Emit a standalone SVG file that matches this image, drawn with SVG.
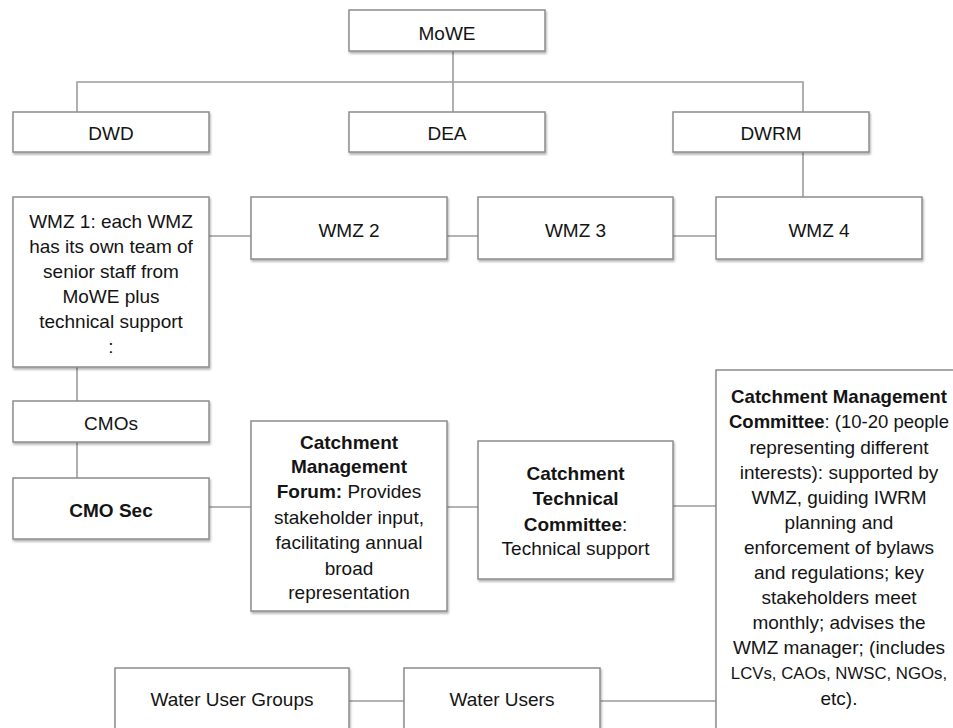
<svg xmlns="http://www.w3.org/2000/svg" width="953" height="728" viewBox="0 0 953 728">
<defs>
<style>
.b{fill:#fff;stroke:#8c8c8c;stroke-width:1.5;filter:url(#sh)}
.t{font-family:"Liberation Sans",Arial,sans-serif;font-size:19px;fill:#141414;text-anchor:middle}
.bd{font-weight:bold}
.c{stroke:#9c9c9c;stroke-width:1.6;fill:none}
</style>
<filter id="sh" x="-5%" y="-5%" width="110%" height="115%">
<feDropShadow dx="1" dy="2" stdDeviation="1" flood-color="#000" flood-opacity="0.3"/>
</filter>
</defs>
<rect width="953" height="728" fill="#fff"/>
<g id="connectors">
<path class="c" d="M453,51 V112"/>
<path class="c" d="M77,112 V82 H803 V112"/>
<path class="c" d="M803,152 V197"/>
<path class="c" d="M209,236 H251 M447,236 H478 M673,236 H716"/>
<path class="c" d="M77,367 V401 M77,442 V478"/>
<path class="c" d="M209,507 H251 M447,507 H478 M673,506 H716"/>
<path class="c" d="M349,701 H404 M600,701 H716"/>
</g>
<g id="mowe"><rect class="b" x="349" y="10" width="196" height="41"/><text class="t" x="447" y="40">MoWE</text></g>
<g id="dwd"><rect class="b" x="13" y="112" width="196" height="40"/><text class="t" x="111" y="140">DWD</text></g>
<g id="dea"><rect class="b" x="349" y="112" width="196" height="40"/><text class="t" x="447" y="140">DEA</text></g>
<g id="dwrm"><rect class="b" x="673" y="112" width="196" height="40"/><text class="t" x="771" y="140">DWRM</text></g>
<g id="wmz1"><rect class="b" x="13" y="197" width="196" height="170"/>
<text class="t" x="111" y="228">WMZ 1: each WMZ</text>
<text class="t" x="111" y="253">has its own team of</text>
<text class="t" x="111" y="278">senior staff from</text>
<text class="t" x="111" y="303">MoWE plus</text>
<text class="t" x="111" y="328">technical support</text>
<text class="t" x="111" y="353">:</text></g>
<g id="wmz2"><rect class="b" x="251" y="197" width="196" height="62"/><text class="t" x="349" y="237">WMZ 2</text></g>
<g id="wmz3"><rect class="b" x="478" y="197" width="195" height="62"/><text class="t" x="575.5" y="237">WMZ 3</text></g>
<g id="wmz4"><rect class="b" x="716" y="197" width="206" height="62"/><text class="t" x="819" y="237">WMZ 4</text></g>
<g id="cmos"><rect class="b" x="13" y="401" width="196" height="41"/><text class="t" x="111" y="430">CMOs</text></g>
<g id="cmosec"><rect class="b" x="13" y="478" width="196" height="61"/><text class="t bd" x="111" y="517">CMO Sec</text></g>
<g id="cmf"><rect class="b" x="251" y="421" width="196" height="190"/>
<text class="t bd" x="349" y="449">Catchment</text>
<text class="t bd" x="349" y="473">Management</text>
<text class="t" x="349" y="498"><tspan class="bd">Forum:</tspan> Provides</text>
<text class="t" x="349" y="524">stakeholder input,</text>
<text class="t" x="349" y="549">facilitating annual</text>
<text class="t" x="349" y="575">broad</text>
<text class="t" x="349" y="599">representation</text></g>
<g id="ctc"><rect class="b" x="478" y="441" width="195" height="138"/>
<text class="t bd" x="575.5" y="480">Catchment</text>
<text class="t bd" x="575.5" y="505">Technical</text>
<text class="t" x="575.5" y="531"><tspan class="bd">Committee</tspan>:</text>
<text class="t" x="575.5" y="555">Technical support</text></g>
<g id="cmc"><rect class="b" x="716" y="370" width="250" height="380"/>
<text class="t bd" x="839" y="403" textLength="216" lengthAdjust="spacingAndGlyphs">Catchment Management</text>
<text class="t" x="839" y="428" textLength="220" lengthAdjust="spacingAndGlyphs"><tspan class="bd">Committee</tspan>: (10-20 people</text>
<text class="t" x="839" y="454">representing different</text>
<text class="t" x="839" y="479">interests): supported by</text>
<text class="t" x="839" y="504">WMZ, guiding IWRM</text>
<text class="t" x="839" y="529">planning and</text>
<text class="t" x="839" y="554">enforcement of bylaws</text>
<text class="t" x="839" y="579">and regulations; key</text>
<text class="t" x="839" y="604">stakeholders meet</text>
<text class="t" x="839" y="629">monthly; advises the</text>
<text class="t" x="839" y="654">WMZ manager; (includes</text>
<text class="t" x="839" y="679" style="font-size:16.8px">LCVs, CAOs, NWSC, NGOs,</text>
<text class="t" x="839" y="705">etc).</text></g>
<g id="wug"><rect class="b" x="115" y="668" width="234" height="80"/><text class="t" x="232" y="706">Water User Groups</text></g>
<g id="wu"><rect class="b" x="404" y="668" width="196" height="80"/><text class="t" x="502" y="706">Water Users</text></g>
</svg>
